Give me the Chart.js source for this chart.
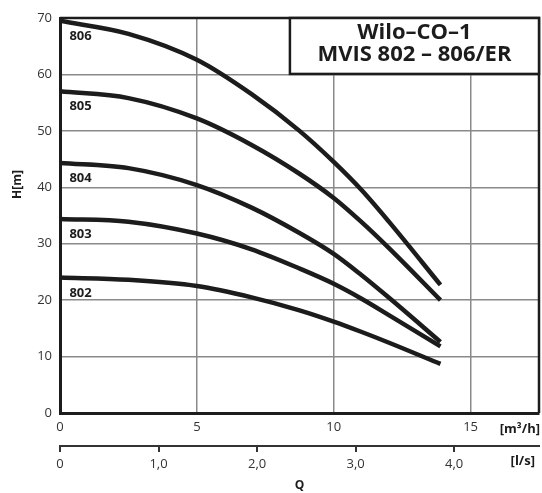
<!DOCTYPE html>
<html>
<head>
<meta charset="utf-8">
<script src="https://cdn.jsdelivr.net/npm/chart.js@4/dist/chart.umd.min.js"></script>
<style>
  html, body { margin: 0; padding: 0; background: #fff; }
  #wrap { width: 542px; height: 493px; position: relative; }
</style>
</head>
<body>
<div id="wrap"><canvas id="c" width="542" height="493"></canvas></div>
<script>
// ---- data ----
const flowM3h = [0, 2.5, 5, 7, 8.75, 10, 11, 12, 13.9];
const pumpNames = ["806", "805", "804", "803", "802"];
const head806 = [69.5, 67.2, 62.6, 56.5, 50.0, 44.5, 39.6, 34.0, 22.7];
const head805 = [57.0, 55.8, 52.2, 47.5, 42.4, 38.1, 33.9, 29.3, 20.0];
const head804 = [44.3, 43.4, 40.4, 36.4, 31.9, 28.2, 24.5, 20.5, 12.6];
const head803 = [34.4, 33.9, 31.8, 29.0, 25.6, 22.9, 20.3, 17.4, 11.8];
const head802 = [24.0, 23.6, 22.5, 20.5, 18.2, 16.2, 14.4, 12.5, 8.7];
const headSeries = [head806, head805, head804, head803, head802];
const xTicksM3h = [0, 5, 10, 15];
const xTicksLs = [0, 1, 2, 3, 4];
const yTicks = [0, 10, 20, 30, 40, 50, 60, 70];
const titleLines = ["Wilo\u2013CO\u20131", "MVIS 802 \u2013 806/ER"];
const xUnit = "[m\u00b3/h]";
const x2Unit = "[l/s]";
const yTitle = "H[m]";
const xTitle = "Q";

const FONT = "'Open Sans', 'Noto Sans', sans-serif";
const INK = "#1c1c1c";
const TXT = "#333";

const datasets = headSeries.map((arr, i) => ({
  label: pumpNames[i],
  data: flowM3h.map((q, k) => ({ x: q, y: arr[k] })),
  borderColor: INK,
  borderWidth: 4.5,
  pointRadius: 0,
  fill: false,
  cubicInterpolationMode: 'monotone',
  borderCapStyle: 'butt'
}));

const extras = {
  id: 'extras',
  afterDraw(chart) {
    const ctx = chart.ctx;
    const a = chart.chartArea;
    const xs = chart.scales.x, ys = chart.scales.y, x2 = chart.scales.x2;
    ctx.save();
    // top & right frame
    ctx.strokeStyle = INK;
    ctx.lineWidth = 2.5;
    ctx.beginPath();
    ctx.moveTo(a.left, a.top);
    ctx.lineTo(a.right, a.top);
    ctx.lineTo(a.right, a.bottom);
    ctx.stroke();

    // curve labels
    ctx.fillStyle = INK;
    ctx.font = "bold 13px " + FONT;
    ctx.textAlign = 'center';
    ctx.textBaseline = 'middle';
    headSeries.forEach((arr, i) => {
      const px = xs.getPixelForValue(0.75);
      const py = ys.getPixelForValue(arr[0] - 2.7);
      ctx.fillText(pumpNames[i], px, py);
    });

    // title box
    const bx = xs.getPixelForValue(8.4);
    const by = a.top;
    const bw = a.right - bx;
    const bh = ys.getPixelForValue(60) - a.top - 0.5;
    ctx.fillStyle = '#fff';
    ctx.fillRect(bx, by, bw, bh);
    ctx.lineWidth = 2.5;
    ctx.strokeStyle = INK;
    ctx.strokeRect(bx, by, bw, bh);
    ctx.fillStyle = INK;
    ctx.font = "bold 22px " + FONT;
    ctx.fillText(titleLines[0], bx + bw / 2, by + 14.5);
    ctx.fillText(titleLines[1], bx + bw / 2, by + 36.5);

    // unit labels
    ctx.font = "bold 13px " + FONT;
    ctx.textAlign = 'right';
    ctx.fillStyle = INK;
    ctx.fillText(xUnit, chart.width - 2, a.bottom + 16);
    ctx.fillText(x2Unit, chart.width - 7, x2.top + 15);

    // y title
    ctx.save();
    ctx.translate(18, ys.getPixelForValue(40.5));
    ctx.rotate(-Math.PI / 2);
    ctx.textAlign = 'center';
    ctx.font = "bold 12px " + FONT;
    ctx.fillText(yTitle, 0, 0);
    ctx.restore();

    ctx.restore();
  }
};

new Chart(document.getElementById('c'), {
  type: 'line',
  data: { datasets },
  plugins: [extras],
  options: {
    responsive: false,
    animation: false,
    devicePixelRatio: 1,
    layout: { padding: { left: 0, right: 3, top: 18, bottom: 0 } },
    plugins: { legend: { display: false }, tooltip: { enabled: false } },
    scales: {
      x: {
        type: 'linear', position: 'bottom', min: 0, max: 17.5,
        afterBuildTicks: s => { s.ticks = xTicksM3h.map(v => ({ value: v })); },
        afterFit: s => { s.height = 33; },
        ticks: { color: TXT, font: { family: FONT, size: 13 }, padding: 6,
                 maxRotation: 0, autoSkip: false, callback: v => String(v) },
        grid: { color: '#8a8a8a', lineWidth: 1.5, drawTicks: false },
        border: { color: INK, width: 3 }
      },
      x2: {
        type: 'linear', position: 'bottom', min: 0, max: 17.5 / 3.6,
        afterBuildTicks: s => { s.ticks = xTicksLs.map(v => ({ value: v })); },
        afterFit: s => { s.height = 47; },
        ticks: { color: TXT, font: { family: FONT, size: 13 }, padding: 4,
                 maxRotation: 0, autoSkip: false,
                 callback: v => v === 0 ? '0' : v.toFixed(1).replace('.', ',') },
        grid: { drawOnChartArea: false, drawTicks: true, tickLength: 6, color: '#333', lineWidth: 2 },
        border: { color: '#333', width: 2 },
        title: { display: true, text: xTitle, color: INK, font: { family: FONT, size: 12, weight: 'bold' }, padding: { top: 5, bottom: 0 } }
      },
      y: {
        type: 'linear', position: 'left', min: 0, max: 70,
        afterBuildTicks: s => { s.ticks = yTicks.map(v => ({ value: v })); },
        afterFit: s => { s.width = 60; },
        ticks: { color: TXT, font: { family: FONT, size: 13 }, padding: 8, callback: v => String(v) },
        grid: { color: '#8a8a8a', lineWidth: 1.5, drawTicks: false },
        border: { color: INK, width: 3 }
      }
    }
  }
});
</script>
</body>
</html>
